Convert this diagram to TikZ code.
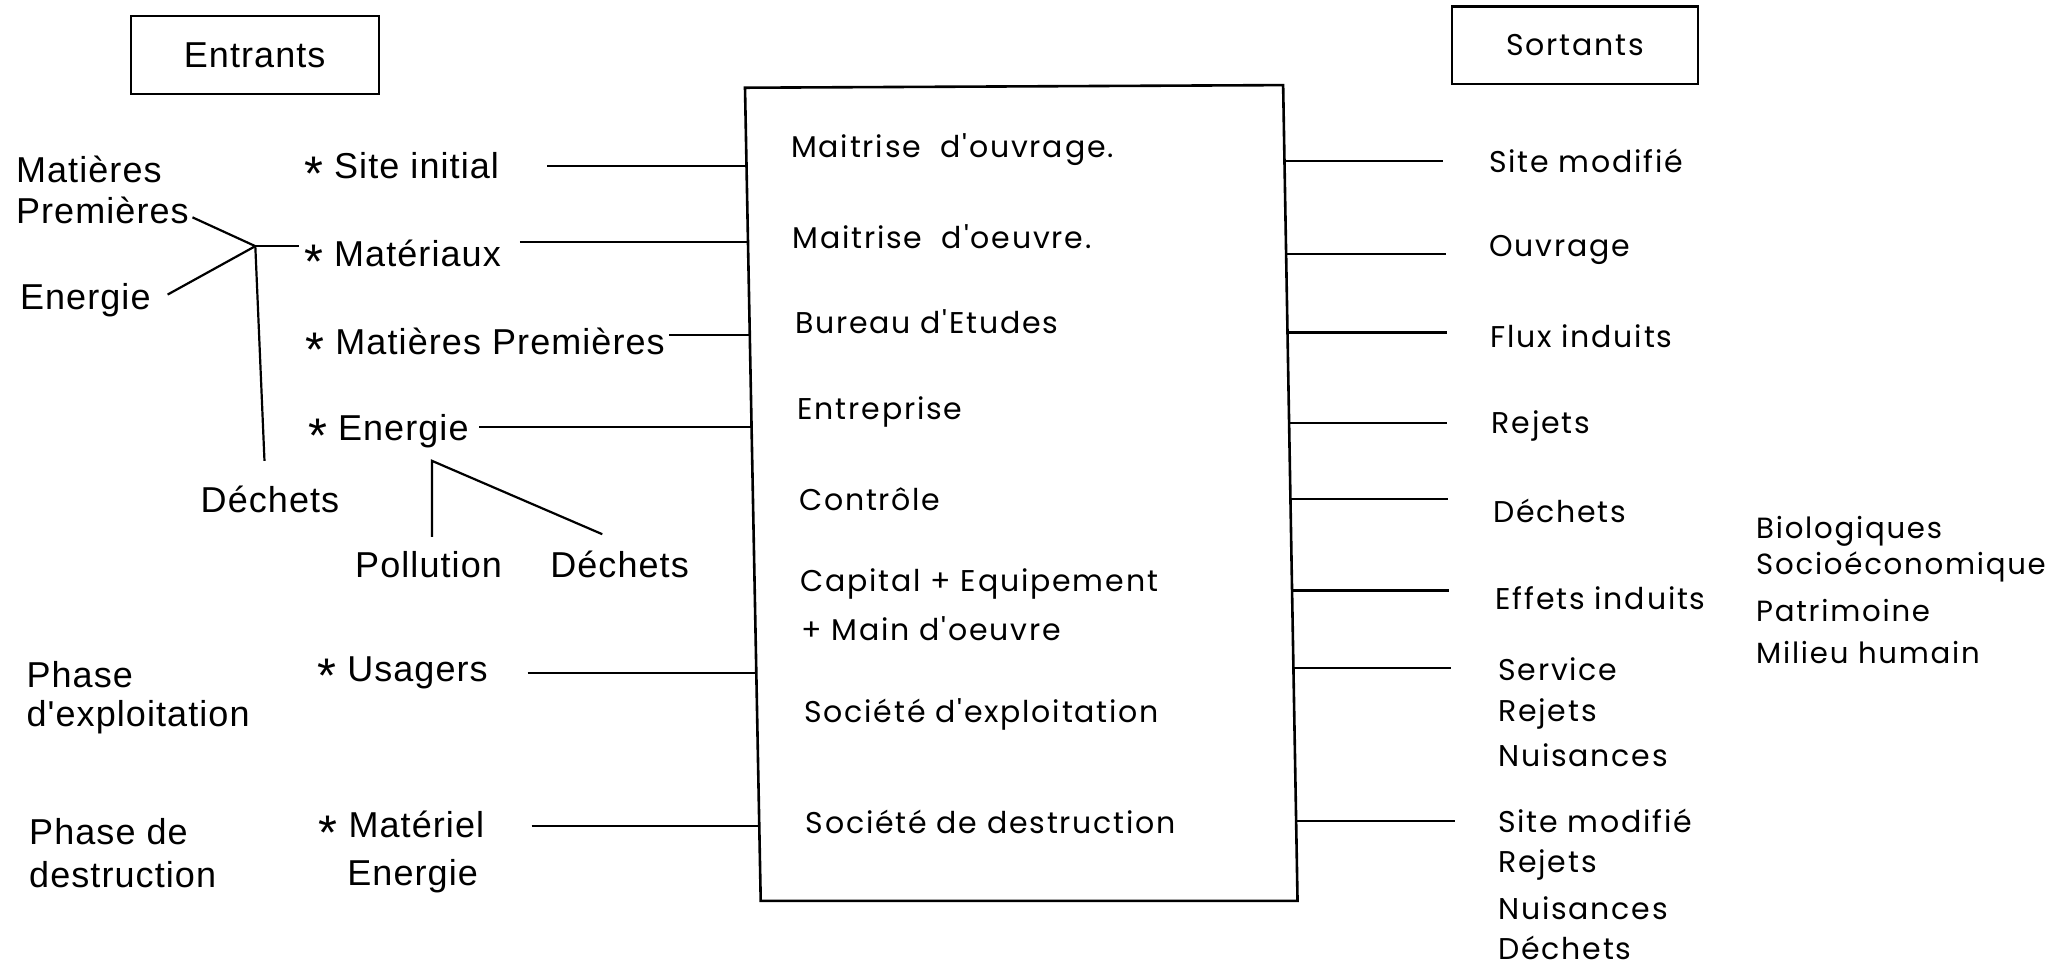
\documentclass[tikz,border=0pt]{standalone}
\usepackage{fontspec}
\usepackage{graphicx}
\newfontfamily\leftfont[LetterSpace=3]{Liberation Sans}
\newfontfamily\boxfont[LetterSpace=6]{Poppins}
\newcommand{\bigstar}{\raisebox{-0.6ex}{\scalebox{1.35}{*}}}
\begin{document}
\begin{tikzpicture}[x=0.6547pt,y=-0.6547pt,
  lt/.style={font=\leftfont\fontsize{18}{20}\selectfont, anchor=west, inner sep=0pt, yshift=-2pt},
  rt/.style={font=\boxfont\fontsize{15}{18}\selectfont, anchor=west, inner sep=0pt},
  ln/.style={line width=1.1pt},
  hbox/.style={draw, line width=1.1pt, inner sep=0pt}]
\useasboundingbox (0,0) rectangle (1568,739);
% header boxes
\node[hbox, minimum width=124pt, minimum height=39pt, font=\leftfont\fontsize{18}{20}\selectfont] (entr) at (194.5,42) {Entrants};
\node[hbox, minimum width=123pt, minimum height=38.6pt, font=\boxfont\fontsize{15}{18}\selectfont] (sort) at (1203,34.5) {Sortants};
% main box
\coordinate (bTL) at (569,67);
\coordinate (bTR) at (980,65);
\coordinate (bBR) at (991,688);
\coordinate (bBL) at (581,688);
\draw[line width=1.3pt] (bTL) -- (bTR) -- (bBR) -- (bBL) -- cycle;
% left texts
\node[lt] (mp1) at (12,126) {Matières};
\node[lt] (mp2) at (12,158) {Premières};
\node[lt] (en0) at (15,226) {Energie};
\node[lt] (s1) at (232,128) {\bigstar\ Site initial};
\node[lt] (s2) at (232,195) {\bigstar\ Matériaux};
\node[lt] (s3) at (233,262) {\bigstar\ Matières Premières};
\node[lt] (s4) at (235,328) {\bigstar\ Energie};
\node[lt] (de1) at (153,378) {Déchets};
\node[lt] (pol) at (271,428) {Pollution};
\node[lt] (de2) at (420,428) {Déchets};
\node[lt] (ph1) at (20,512) {Phase};
\node[lt] (ph2) at (20,545) {d'exploitation};
\node[lt] (s5) at (242,512) {\bigstar\ Usagers};
\node[lt] (ph3) at (22,632) {Phase de};
\node[lt] (ph4) at (22,665) {destruction};
\node[lt] (s6) at (243,631) {\bigstar\ Matériel};
\node[lt] (s7) at (265,666) {Energie};
% left connectors
\coordinate (a1) at (418,127);   \coordinate (b1) at (570.2,127);
\coordinate (a2) at (397,185);   \coordinate (b2) at (571.3,185);
\coordinate (a3) at (511,256);   \coordinate (b3) at (572.7,256);
\coordinate (a4) at (366,326);   \coordinate (b4) at (574,326);
\coordinate (a5) at (403,514);   \coordinate (b5) at (577.6,514);
\coordinate (a6) at (406,631);   \coordinate (b6) at (579.9,631);
\foreach \i in {1,...,6} {\draw[ln] (a\i) -- (b\i);}
% bracket Matières Premières / Energie -> Matériaux, Déchets
\coordinate (jn) at (195,188);
\coordinate (pr) at (147,166);
\coordinate (eg) at (128,225);
\coordinate (jh) at (228,188);
\coordinate (dv) at (202,352);
\draw[ln] (pr) -- (jn) -- (eg);
\draw[ln] (jn) -- (jh);
\draw[ln] (jn) -- (dv);
% Energie -> Pollution / Déchets
\coordinate (ap) at (330,352);
\coordinate (pv) at (330,410);
\coordinate (dd) at (460,408);
\draw[ln] (pv) -- (ap) -- (dd);
% main box texts
\node[rt] (m1) at (604,114) {Maitrise\ \ d'ouvrage.};
\node[rt] (m2) at (605,181) {Maitrise\ \ d'oeuvre.};
\node[rt] (m3) at (607,246) {Bureau d'Etudes};
\node[rt] (m4) at (609,315) {Entreprise};
\node[rt] (m5) at (610,381) {Contrôle};
\node[rt] (m6) at (611,446) {Capital + Equipement};
\node[rt] (m7) at (612,480) {+ Main d'oeuvre};
\node[rt] (m8) at (614,546) {Société d'exploitation};
\node[rt] (m9) at (615,628) {Société de destruction};
% right connectors
\coordinate (c1) at (981,123);   \coordinate (d1) at (1102,123);
\coordinate (c2) at (982.3,194); \coordinate (d2) at (1104,194);
\coordinate (c3) at (983.3,254); \coordinate (d3) at (1105,254);
\coordinate (c4) at (984.6,323); \coordinate (d4) at (1105,323);
\coordinate (c5) at (985.6,381); \coordinate (d5) at (1106,381);
\coordinate (c6) at (986.8,451); \coordinate (d6) at (1107,451);
\coordinate (c7) at (987.9,510); \coordinate (d7) at (1108,510);
\coordinate (c8) at (989.9,627); \coordinate (d8) at (1111,627);
\foreach \i in {1,...,8} {\draw[ln] (c\i) -- (d\i);}
% right texts
\node[rt] (r1) at (1137,123) {Site modifié};
\node[rt] (r2) at (1137,191) {Ouvrage};
\node[rt] (r3) at (1138,257) {Flux induits};
\node[rt] (r4) at (1139,325) {Rejets};
\node[rt] (r5) at (1140,390) {Déchets};
\node[rt] (r6) at (1142,457) {Effets induits};
\node[rt] (r7) at (1144,511) {Service};
\node[rt] (r8) at (1144,545) {Rejets};
\node[rt] (r9) at (1144,577) {Nuisances};
\node[rt] (r10) at (1144,627) {Site modifié};
\node[rt] (r11) at (1144,661) {Rejets};
\node[rt] (r12) at (1144,694) {Nuisances};
\node[rt] (r13) at (1144,724) {Déchets};
\node[rt, font=\boxfont\fontsize{14.6}{18}\selectfont] (e1) at (1341,406) {Biologiques};
\node[rt, font=\boxfont\fontsize{14.6}{18}\selectfont] (e2) at (1341,433) {Socioéconomique};
\node[rt, font=\boxfont\fontsize{14.6}{18}\selectfont] (e3) at (1341,466) {Patrimoine};
\node[rt, font=\boxfont\fontsize{14.6}{18}\selectfont] (e4) at (1341,498) {Milieu humain};
\end{tikzpicture}
\end{document}
